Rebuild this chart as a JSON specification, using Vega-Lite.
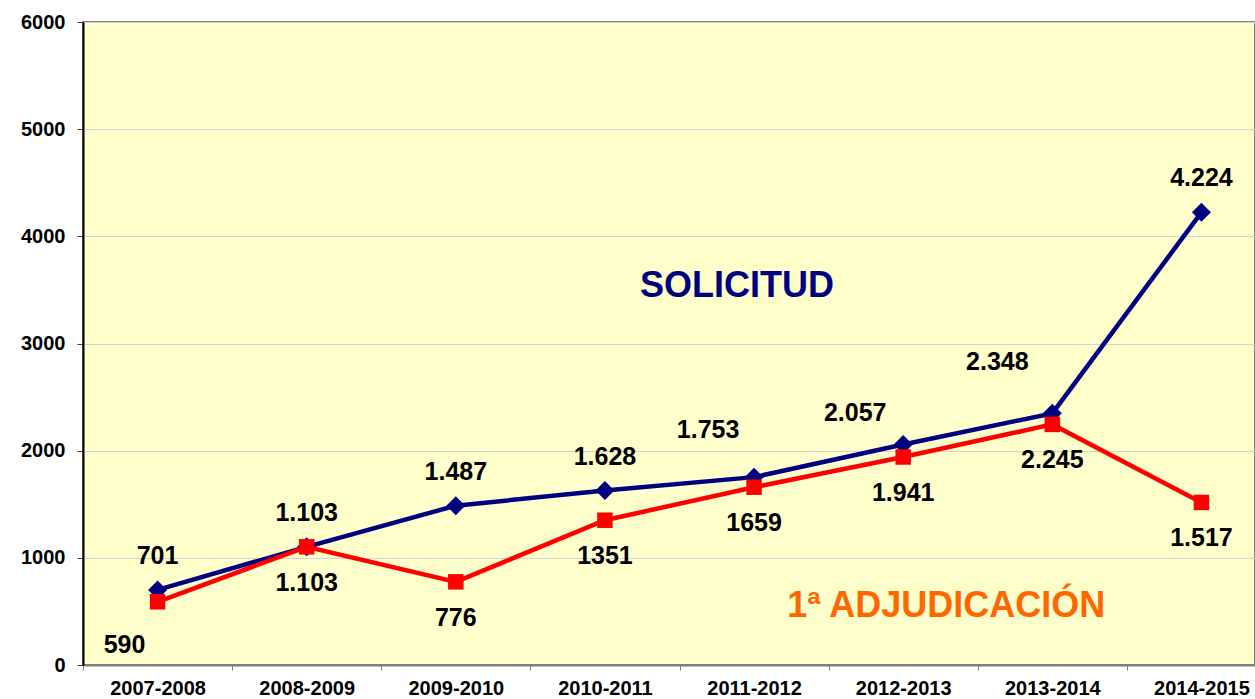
{
  "$schema": "https://vega.github.io/schema/vega-lite/v6.json",
  "width": 1172,
  "height": 643,
  "autosize": {"type": "none"},
  "padding": {"left": 83, "top": 22, "right": 0, "bottom": 34},
  "background": "#ffffff",
  "config": {
    "view": {"fill": "#FFFFCC", "stroke": "#808080", "strokeWidth": 2},
    "font": "Liberation Sans",
    "text": {"font": "Liberation Sans", "fontWeight": "bold"}
  },
  "data": {
    "values": [
      {"season": "2007-2008", "series": "SOLICITUD", "value": 701, "label": "701"},
      {"season": "2008-2009", "series": "SOLICITUD", "value": 1103, "label": "1.103"},
      {"season": "2009-2010", "series": "SOLICITUD", "value": 1487, "label": "1.487"},
      {"season": "2010-2011", "series": "SOLICITUD", "value": 1628, "label": "1.628"},
      {"season": "2011-2012", "series": "SOLICITUD", "value": 1753, "label": "1.753"},
      {"season": "2012-2013", "series": "SOLICITUD", "value": 2057, "label": "2.057"},
      {"season": "2013-2014", "series": "SOLICITUD", "value": 2348, "label": "2.348"},
      {"season": "2014-2015", "series": "SOLICITUD", "value": 4224, "label": "4.224"},
      {"season": "2007-2008", "series": "1ª ADJUDICACIÓN", "value": 590, "label": "590"},
      {"season": "2008-2009", "series": "1ª ADJUDICACIÓN", "value": 1103, "label": "1.103"},
      {"season": "2009-2010", "series": "1ª ADJUDICACIÓN", "value": 776, "label": "776"},
      {"season": "2010-2011", "series": "1ª ADJUDICACIÓN", "value": 1351, "label": "1351"},
      {"season": "2011-2012", "series": "1ª ADJUDICACIÓN", "value": 1659, "label": "1659"},
      {"season": "2012-2013", "series": "1ª ADJUDICACIÓN", "value": 1941, "label": "1.941"},
      {"season": "2013-2014", "series": "1ª ADJUDICACIÓN", "value": 2245, "label": "2.245"},
      {"season": "2014-2015", "series": "1ª ADJUDICACIÓN", "value": 1517, "label": "1.517"}
    ]
  },
  "encoding": {
    "x": {
      "field": "season",
      "type": "nominal",
      "sort": null,
      "scale": {"type": "band", "range": [0, 1193], "paddingInner": 0, "paddingOuter": 0},
      "axis": {
        "title": null,
        "labelAngle": 0,
        "labelFont": "Liberation Sans",
        "labelFontWeight": "bold",
        "labelFontSize": 20,
        "labelColor": "#000000",
        "labelPadding": 8,
        "tickBand": "extent",
        "tickSize": 5,
        "tickColor": "#808080",
        "domainColor": "#808080",
        "domainWidth": 2,
        "grid": false
      }
    },
    "y": {
      "field": "value",
      "type": "quantitative",
      "scale": {"domain": [0, 6000], "nice": false},
      "axis": {
        "title": null,
        "values": [0, 1000, 2000, 3000, 4000, 5000, 6000],
        "format": "d",
        "labelFont": "Liberation Sans",
        "labelFontWeight": "bold",
        "labelFontSize": 20,
        "labelColor": "#000000",
        "labelPadding": 12,
        "tickSize": 6,
        "tickColor": "#404040",
        "domainColor": "#000000",
        "domainWidth": 2,
        "grid": true,
        "gridColor": "#D4D4D4",
        "gridWidth": 1
      }
    }
  },
  "layer": [
    {
      "transform": [{"filter": "datum.series === 'SOLICITUD'"}],
      "mark": {"type": "line", "color": "#000080", "strokeWidth": 4.5}
    },
    {
      "transform": [{"filter": "datum.series === 'SOLICITUD'"}],
      "mark": {"type": "point", "shape": "diamond", "filled": true, "size": 361, "color": "#000080", "opacity": 1}
    },
    {
      "transform": [{"filter": "datum.series !== 'SOLICITUD'"}],
      "mark": {"type": "line", "color": "#FF0000", "strokeWidth": 4.5}
    },
    {
      "transform": [{"filter": "datum.series !== 'SOLICITUD'"}],
      "mark": {"type": "point", "shape": "square", "filled": true, "size": 240, "color": "#FF0000", "opacity": 1}
    },
    {
      "transform": [{"filter": "datum.series === 'SOLICITUD' && datum.season !== '2011-2012' && datum.season !== '2012-2013' && datum.season !== '2013-2014'"}],
      "mark": {"type": "text", "fontSize": 25, "color": "#000000", "baseline": "middle", "dy": -34},
      "encoding": {"text": {"field": "label"}}
    },
    {
      "transform": [{"filter": "datum.series === 'SOLICITUD' && datum.season === '2011-2012'"}],
      "mark": {"type": "text", "fontSize": 25, "color": "#000000", "baseline": "middle", "dx": -46, "dy": -47},
      "encoding": {"text": {"field": "label"}}
    },
    {
      "transform": [{"filter": "datum.series === 'SOLICITUD' && datum.season === '2012-2013'"}],
      "mark": {"type": "text", "fontSize": 25, "color": "#000000", "baseline": "middle", "dx": -48, "dy": -32},
      "encoding": {"text": {"field": "label"}}
    },
    {
      "transform": [{"filter": "datum.series === 'SOLICITUD' && datum.season === '2013-2014'"}],
      "mark": {"type": "text", "fontSize": 25, "color": "#000000", "baseline": "middle", "dx": -55, "dy": -51},
      "encoding": {"text": {"field": "label"}}
    },
    {
      "transform": [{"filter": "datum.series !== 'SOLICITUD' && datum.season !== '2007-2008'"}],
      "mark": {"type": "text", "fontSize": 25, "color": "#000000", "baseline": "middle", "dy": 36},
      "encoding": {"text": {"field": "label"}}
    },
    {
      "transform": [{"filter": "datum.series !== 'SOLICITUD' && datum.season === '2007-2008'"}],
      "mark": {"type": "text", "fontSize": 25, "color": "#000000", "baseline": "middle", "dx": -33, "dy": 43},
      "encoding": {"text": {"field": "label"}}
    },
    {
      "data": {"values": [{"season": "2011-2012", "value": 3434, "note": "SOLICITUD"}]},
      "mark": {"type": "text", "fontSize": 36, "color": "#000080", "baseline": "alphabetic", "align": "center", "dx": -17},
      "encoding": {"text": {"field": "note"}}
    },
    {
      "data": {"values": [{"season": "2012-2013", "value": 448, "note": "1ª ADJUDICACIÓN"}]},
      "mark": {"type": "text", "fontSize": 36, "color": "#FF6600", "baseline": "alphabetic", "align": "center", "dx": 43},
      "encoding": {"text": {"field": "note"}}
    }
  ]
}
